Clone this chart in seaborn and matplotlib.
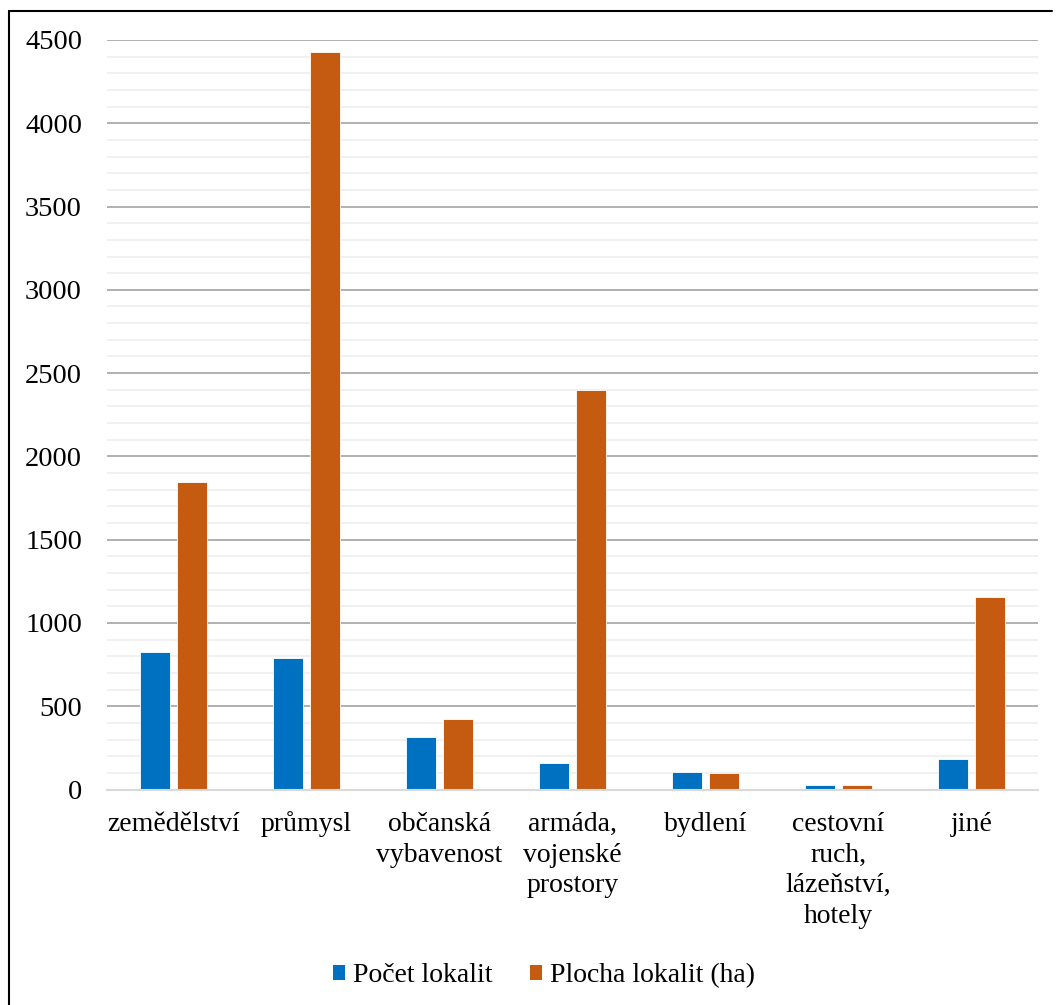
import matplotlib
matplotlib.use("Agg")
import matplotlib.pyplot as plt
import matplotlib.transforms as mtransforms
import seaborn as sns
import pandas as pd
from matplotlib.lines import Line2D
from matplotlib.patches import Patch
from matplotlib.ticker import MultipleLocator

categories = ["zemědělství", "průmysl", "občanská\nvybavenost", "armáda,\nvojenské\nprostory",
              "bydlení", "cestovní\nruch,\nlázeňství,\nhotely", "jiné"]
series_names = ["Počet lokalit", "Plocha lokalit (ha)"]
pocet = [828, 792, 314, 158, 104, 30, 182]
plocha = [1846, 4428, 421, 2400, 97, 30, 1153]
colors = ["#0070C0", "#C55A11"]

df = pd.DataFrame({
    "kategorie": categories * 2,
    "serie": [series_names[0]] * len(categories) + [series_names[1]] * len(categories),
    "hodnota": pocet + plocha,
})

sns.set_theme(style="white")
plt.rcParams["font.family"] = ["Liberation Serif", "DejaVu Serif"]
plt.rcParams["text.color"] = "black"

fig = plt.figure(figsize=(10.57, 10.05), dpi=100)
ax = fig.add_axes([107 / 1057, 1 - 789.5 / 1005, (1038 - 107) / 1057, (789.5 - 40) / 1005])

sns.barplot(data=df, x="kategorie", y="hodnota", hue="serie", palette=colors,
            order=categories, hue_order=series_names, width=0.571, gap=0.21,
            edgecolor="white", linewidth=0.6, saturation=1, legend=False, ax=ax, zorder=3)

ax.set_ylim(0, 4500)
ax.set_xlim(-0.5, len(categories) - 0.5)
ax.yaxis.set_major_locator(MultipleLocator(500))
ax.yaxis.set_minor_locator(MultipleLocator(100))
ax.grid(axis="y", which="major", color="#ADA9A9", linewidth=1.3, zorder=1)
ax.grid(axis="y", which="minor", color="#F0F0F0", linewidth=1.3, zorder=0)
ax.grid(axis="x", visible=False)
for s in ["top", "right", "left"]:
    ax.spines[s].set_visible(False)
ax.spines["bottom"].set_color("#D9D9D9")
ax.spines["bottom"].set_linewidth(1.5)
ax.spines["bottom"].set_zorder(4)
ax.set_xlabel("")
ax.set_ylabel("")
ax.tick_params(axis="y", which="both", length=0, pad=18, labelsize=20.5, colors="black")
ax.tick_params(axis="x", length=0, labelbottom=False)

# category labels: each line baseline-aligned like the reference
blend = mtransforms.blended_transform_factory(ax.transData, ax.transAxes)
for i, cat in enumerate(categories):
    for k, line in enumerate(cat.split("\n")):
        tr = mtransforms.offset_copy(blend, fig=fig, x=0, y=-(41.5 + k * 30.5), units="dots")
        ax.text(i, 0, line, transform=tr, ha="center", va="baseline", fontsize=20,
                color="black", clip_on=False)

handles = [Patch(facecolor=c, edgecolor="none") for c in colors]
fig.legend(handles, series_names, loc="center", bbox_to_anchor=(0.515, 0.029),
           ncol=2, frameon=False, fontsize=20, handlelength=0.42, handleheight=0.42,
           handletextpad=0.3, columnspacing=1.35, labelcolor="black")

fig.add_artist(Line2D([9 / 1057, 9 / 1057], [0, 1 - 11 / 1005], color="black", linewidth=1.5,
                      transform=fig.transFigure))
fig.add_artist(Line2D([9 / 1057, 1052 / 1057], [1 - 11 / 1005, 1 - 11 / 1005], color="black",
                      linewidth=1.5, transform=fig.transFigure))

fig.savefig("out.png", dpi=100, facecolor="white")
